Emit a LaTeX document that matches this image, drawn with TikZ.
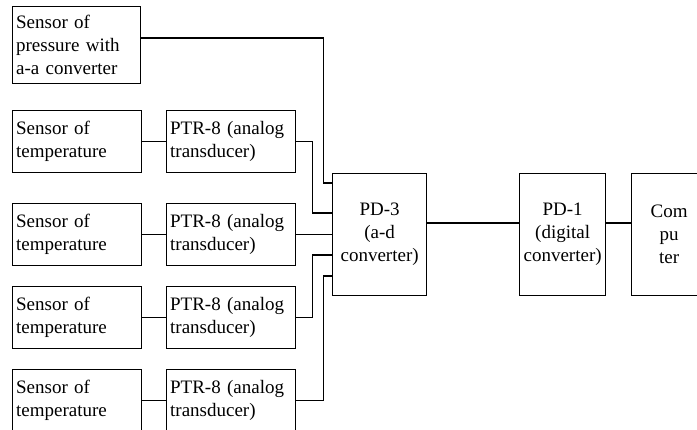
\documentclass[tikz,border=0pt]{standalone}
\usepackage{fontspec}
\setmainfont{Liberation Serif}
\begin{document}
\begin{tikzpicture}[x=1pt,y=-1pt,
  box/.style={draw, line width=1.3pt, rectangle, anchor=north west, inner xsep=3.5pt, inner ysep=0pt,
    font=\fontsize{19}{23}\selectfont},
  lbox/.style={box, align=left, text width=#1},
  cbox/.style={box, align=center, text width=#1},
  wire/.style={line width=1.3pt}]
\useasboundingbox (0,0) rectangle (697,430);
% left column
\node[lbox=121, minimum height=77] (p) at (12,6) {Sensor of\\pressure with\\a-a converter};
\node[lbox=122, minimum height=62] (s1) at (12,110) {Sensor of\\temperature};
\node[lbox=122, minimum height=62] (t1) at (166,110) {PTR-8 (analog\\transducer)};
\node[lbox=122, minimum height=62] (s2) at (12,203) {Sensor of\\temperature};
\node[lbox=122, minimum height=62] (t2) at (166,203) {PTR-8 (analog\\transducer)};
\node[lbox=122, minimum height=62] (s3) at (12,286) {Sensor of\\temperature};
\node[lbox=122, minimum height=62] (t3) at (166,286) {PTR-8 (analog\\transducer)};
\node[lbox=122, minimum height=62] (s4) at (12,369) {Sensor of\\temperature};
\node[lbox=122, minimum height=62] (t4) at (166,369) {PTR-8 (analog\\transducer)};
% right part
\node[cbox=87, minimum height=122] (pd3) at (332,173) {PD-3\\(a-d\\converter)};
\node[cbox=79, minimum height=122] (pd1) at (519,173) {PD-1\\(digital\\converter)};
\node[cbox=68, minimum height=122] (comp) at (631,173) {Com\\pu\\ter};
% connectors
\draw[wire] (s1) -- (t1);
\draw[wire] (s2) -- (t2);
\draw[wire] (s3) -- (t3);
\draw[wire] (s4) -- (t4);
\draw[wire] (p.east |- 0,38) -- ++(182,0) |- (pd3.west |- 0,183);
\draw[wire] (t1.east) -- ++(16,0) |- (pd3.west |- 0,213);
\draw[wire] (t2.east) -- (pd3.west |- t2.east);
\draw[wire] (t3.east) -- ++(16,0) |- (pd3.west |- 0,255);
\draw[wire] (t4.east) -- ++(27,0) |- (pd3.west |- 0,276);
\draw[wire] (pd3.east |- 0,223) -- (pd1.west |- 0,223);
\draw[wire] (pd1.east |- 0,223) -- (comp.west |- 0,223);
\end{tikzpicture}
\end{document}
